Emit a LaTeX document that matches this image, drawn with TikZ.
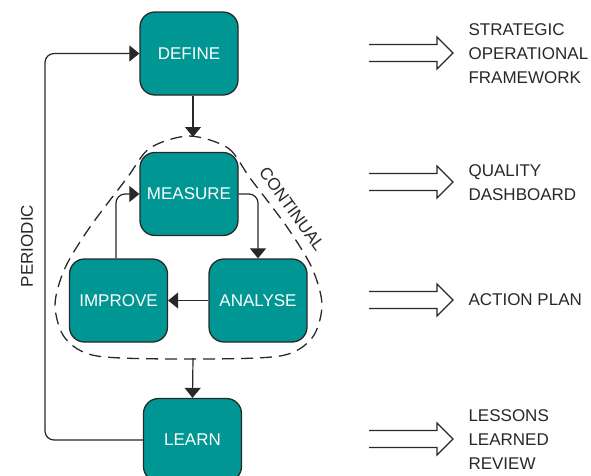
\documentclass[tikz,border=0pt]{standalone}
\usepackage{fontspec}
\setmainfont{Liberation Sans}
\usetikzlibrary{arrows.meta,calc}
\definecolor{phaseteal}{RGB}{0,150,148}
\definecolor{inkgray}{RGB}{40,40,40}

\begin{document}
\begin{tikzpicture}[x=1pt, y=-1pt,
    every node/.append style={font=\fontsize{17}{24}\selectfont, text=inkgray},
    phase/.style={draw=inkgray, line width=1.3pt, fill=phaseteal, rounded corners=15pt,
      minimum width=98pt, minimum height=83pt, text=white},
    flow/.style={draw=inkgray, line width=1.2pt, rounded corners=9pt,
      -{Triangle[width=16pt,length=10pt]}},
    outlabel/.style={anchor=west, align=left},
    outarrow/.pic={\draw[inkgray, line width=1.2pt, line join=miter]
      (0,-8.5) -- (68,-8.5) -- (68,-16) -- (84,0) -- (68,16) -- (68,8.5) -- (0,8.5);}]
    \useasboundingbox (0,0) rectangle (591,475);
    % phases
    \node (define)  [phase] at (189,53.5) {DEFINE};
    \node (measure) [phase] at (189,194) {MEASURE};
    \node (improve) [phase] at (118.5,300.5) {IMPROVE};
    \node (analyse) [phase] at (258,300.5) {ANALYSE};
    \node (learn)   [phase] at (192.5,440) {LEARN};
    % continual loop boundary
    \coordinate (loopTop) at (193,137);
    \coordinate (loopBottom) at (193,358);
    \coordinate (loopLeft) at (45,53.5);
    \draw[inkgray, line width=1.3pt, dash pattern=on 12pt off 7pt]
      plot[smooth cycle] coordinates {(189,136) (228,148) (250,178) (287,227) (312,268)
        (322,305) (312,338) (280,356) (189,359) (97,356) (65,338) (55,305) (65,268)
        (90,227) (127,178) (150,148)};
    \node (continual) [rotate=-54] at (292,209) {CONTINUAL};
    \node (periodic) [rotate=90] at (27,246) {PERIODIC};
    % connectors
    \draw[flow] (define.south -| loopTop) -- (loopTop);
    \draw[flow] (measure.east) -| (analyse.north);
    \draw[flow] (analyse.west) -- (improve.east);
    \draw[flow] ($(improve.north)+(-2.5,0)$) |- (measure.west);
    \draw[flow] (loopBottom) -- (learn.north);
    \draw[flow] (learn.west) -| (loopLeft) -- (define.west);
    % outputs
    \node (framework) [outlabel] at (465,54) {STRATEGIC\\OPERATIONAL\\FRAMEWORK};
    \node (dashboard) [outlabel] at (465,183) {QUALITY\\DASHBOARD};
    \node (actionplan) [outlabel] at (465,300) {ACTION PLAN};
    \node (review) [outlabel] at (465,440) {LESSONS\\LEARNED\\REVIEW};
    \foreach \y in {53,182,300,439}
      \pic at (369,\y) {outarrow};
\end{tikzpicture}
\end{document}
